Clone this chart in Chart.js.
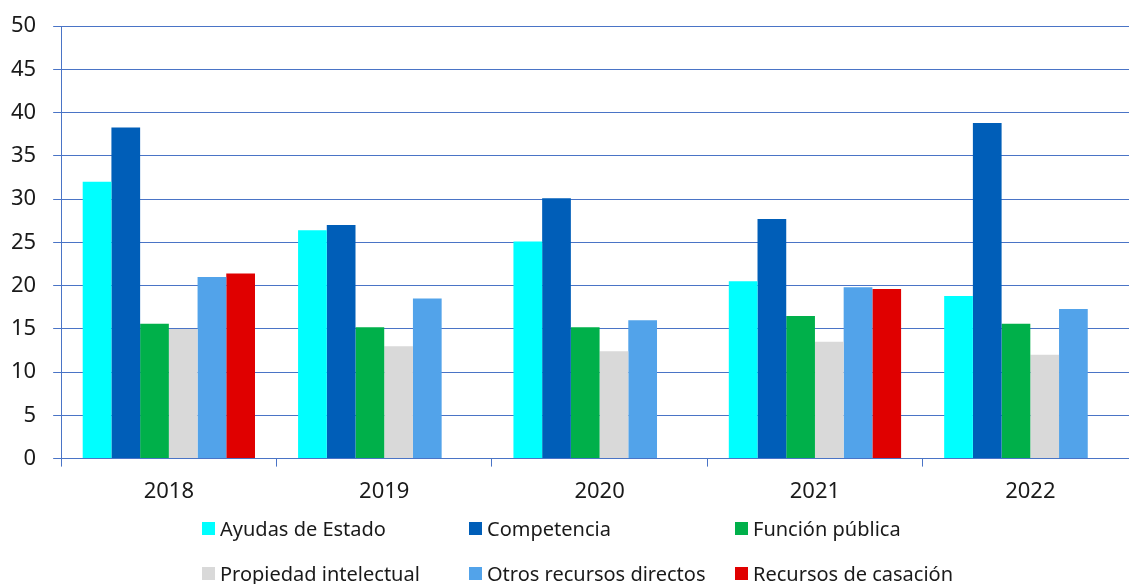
<!DOCTYPE html>
<html>
<head>
<meta charset="utf-8">
<script src="https://cdn.jsdelivr.net/npm/chart.js@4/dist/chart.umd.min.js"></script>
<style>
  html, body { margin: 0; padding: 0; background: #fff; overflow: hidden; width: 1129px; height: 584px; }
  #wrap { position: absolute; left: -16px; top: -4px; width: 1166px; height: 588px; }
  #legend { position: absolute; left: 0; top: 0; width: 1129px; height: 584px; pointer-events: none;
            font-family: "Noto Sans", "Open Sans", sans-serif; font-size: 20px; color: #1a1a1a; }
  .item { position: absolute; display: flex; align-items: center; white-space: nowrap; height: 26px; }
  .box { width: 13px; height: 13px; margin-right: 5px; }
</style>
</head>
<body>
<div id="wrap"><canvas id="c" width="1166" height="588"></canvas></div>
<div id="legend"></div>
<script>
const years = ['2018', '2019', '2020', '2021', '2022'];
const seriesNames = ['Ayudas de Estado', 'Competencia', 'Función pública', 'Propiedad intelectual', 'Otros recursos directos', 'Recursos de casación'];
const ayudasEstado = [32.0, 26.4, 25.1, 20.5, 18.8];
const competencia = [38.3, 27.0, 30.1, 27.7, 38.8];
const funcionPublica = [15.6, 15.2, 15.2, 16.5, 15.6];
const propiedadIntelectual = [15.0, 13.0, 12.4, 13.5, 12.0];
const otrosRecursos = [21.0, 18.5, 16.0, 19.8, 17.3];
const recursosCasacion = [21.4, null, null, 19.6, null];
const yTicks = [0, 5, 10, 15, 20, 25, 30, 35, 40, 45, 50];

const colors = ['#00FFFF', '#005EB8', '#00B04A', '#D9D9D9', '#52A3EA', '#E00000'];
const values = [ayudasEstado, competencia, funcionPublica, propiedadIntelectual, otrosRecursos, recursosCasacion];

const gridColor = '#4a74c6';
const font = { family: '"Noto Sans", "Open Sans", sans-serif', size: 22 };

new Chart(document.getElementById('c'), {
  type: 'bar',
  data: {
    labels: years,
    datasets: seriesNames.map((n, i) => ({
      label: n,
      data: values[i],
      backgroundColor: colors[i],
      borderWidth: 0,
      categoryPercentage: 0.8,
      barPercentage: 1.0
    }))
  },
  options: {
    responsive: false,
    animation: false,
    layout: { padding: { left: 10, right: 12, top: 19, bottom: 67 } },
    plugins: { legend: { display: false }, tooltip: { enabled: false }, title: { display: false } },
    scales: {
      x: {
        offset: true,
        grid: { drawOnChartArea: false, drawTicks: true, tickLength: 8, offset: true, color: gridColor, lineWidth: 1 },
        border: { display: true, color: gridColor, width: 1 },
        ticks: { color: '#1a1a1a', font: font, padding: 12 }
      },
      y: {
        min: 0, max: 50,
        afterBuildTicks: (s) => { s.ticks = yTicks.map(v => ({ value: v })); },
        grid: { color: gridColor, lineWidth: 1, tickLength: 8, drawTicks: true },
        border: { display: true, color: gridColor, width: 1 },
        ticks: { color: '#1a1a1a', font: font, padding: 17 }
      }
    }
  }
});

// Legend (two rows, three columns)
const legend = document.getElementById('legend');
const colX = [202, 469, 735];
const rowY = [528.5, 573.5];
seriesNames.forEach((n, i) => {
  const d = document.createElement('div');
  d.className = 'item';
  d.style.left = colX[i % 3] + 'px';
  d.style.top = (rowY[Math.floor(i / 3)] - 13) + 'px';
  const b = document.createElement('span');
  b.className = 'box';
  b.style.background = colors[i];
  const t = document.createElement('span');
  t.textContent = n;
  d.appendChild(b); d.appendChild(t);
  legend.appendChild(d);
});
</script>
</body>
</html>
